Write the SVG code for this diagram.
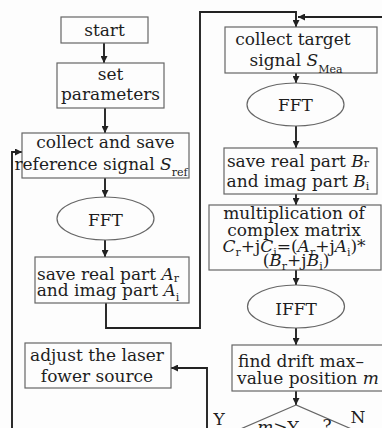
<svg xmlns="http://www.w3.org/2000/svg" width="382" height="428" viewBox="0 0 382 428">
  <defs>
    <marker id="arrow" viewBox="0 0 10 10" refX="10" refY="5" markerWidth="7" markerHeight="7" markerUnits="userSpaceOnUse" orient="auto">
      <path d="M0,0 L10,5 L0,10 Z" fill="#222"/>
    </marker>
    <style>
      .box { fill: none; stroke: #666; stroke-width: 1.2; }
      .arr { fill: none; stroke: #222; stroke-width: 1.9; marker-end: url(#arrow); }
      text { font-family: "DejaVu Serif", "Liberation Serif", serif; font-size: 17px; fill: #1e1e1e; text-anchor: middle; }
      .it { font-style: italic; }
      .sub { font-size: 11px; }
    </style>
  </defs>
  <rect width="382" height="428" fill="#fdfdfd"/>

  <!-- connectors -->
  <g id="connectors">
    <line class="arr" x1="104" y1="43" x2="104" y2="63"/>
    <line class="arr" x1="105" y1="108" x2="105" y2="133"/>
    <line class="arr" x1="105" y1="178" x2="105" y2="197"/>
    <line class="arr" x1="105" y1="240" x2="105" y2="257"/>
    <path class="arr" d="M106,303 V328 H200 V12 H296 V27"/>
    <path class="arr" d="M382,17 H298"/>
    <line class="arr" x1="296" y1="73" x2="296" y2="83"/>
    <line class="arr" x1="296" y1="126" x2="296" y2="148"/>
    <line class="arr" x1="296" y1="194" x2="296" y2="205"/>
    <line class="arr" x1="296" y1="270" x2="296" y2="285"/>
    <line class="arr" x1="296" y1="328" x2="296" y2="345"/>
    <line class="arr" x1="296" y1="391" x2="296" y2="405"/>
    <path class="arr" d="M207,428 V368 H171"/>
    <path class="arr" d="M12,428 V152 H22"/>
  </g>

  <g id="start">
    <rect class="box" x="61" y="17" width="87" height="26"/>
    <text x="104.5" y="36">start</text>
  </g>

  <g id="set-parameters">
    <rect class="box" x="57" y="63" width="107" height="45"/>
    <text x="110.5" y="80">set</text>
    <text x="110.5" y="100">parameters</text>
  </g>

  <g id="collect-reference">
    <rect class="box" x="22" y="133" width="167" height="45"/>
    <text x="105.5" y="148">collect and save</text>
    <text x="101" y="170">reference signal <tspan class="it">S</tspan><tspan class="sub" dy="6">ref</tspan></text>
  </g>

  <g id="fft-reference">
    <ellipse class="box" cx="105.5" cy="218.5" rx="48.5" ry="21.5"/>
    <text x="105.5" y="226">FFT</text>
  </g>

  <g id="save-a">
    <rect class="box" x="35" y="257" width="154" height="46"/>
    <text x="108" y="280">save real part <tspan class="it">A</tspan><tspan class="sub" dy="2">r</tspan></text>
    <text x="108" y="296">and imag part <tspan class="it">A</tspan><tspan class="sub" dy="5">i</tspan></text>
  </g>

  <g id="collect-target">
    <rect class="box" x="225" y="27" width="152" height="46"/>
    <text x="293" y="45">collect target</text>
    <text x="296" y="66">signal <tspan class="it">S</tspan><tspan class="sub" dy="7">Mea</tspan></text>
  </g>

  <g id="fft-target">
    <ellipse class="box" cx="295.5" cy="104.5" rx="48.5" ry="21.5"/>
    <text x="295.5" y="111">FFT</text>
  </g>

  <g id="save-b">
    <rect class="box" x="224" y="148" width="153" height="46"/>
    <text x="298" y="167">save real part <tspan class="it">B</tspan><tspan class="sub" dy="0">r</tspan></text>
    <text x="298" y="187">and imag part <tspan class="it">B</tspan><tspan class="sub" dy="3">i</tspan></text>
  </g>

  <g id="complex-multiply">
    <rect class="box" x="209" y="205" width="172" height="65"/>
    <text x="294" y="219">multiplication of</text>
    <text x="294" y="236">complex matrix</text>
    <text x="294" y="252"><tspan class="it">C</tspan><tspan class="sub" dy="4">r</tspan><tspan dy="-4">+j</tspan><tspan class="it">C</tspan><tspan class="sub" dy="4">i</tspan><tspan dy="-4">=(</tspan><tspan class="it">A</tspan><tspan class="sub" dy="4">r</tspan><tspan dy="-4">+j</tspan><tspan class="it">A</tspan><tspan class="sub" dy="4">i</tspan><tspan dy="-4">)*</tspan></text>
    <text x="296" y="266">(<tspan class="it">B</tspan><tspan class="sub" dy="4">r</tspan><tspan dy="-4">+j</tspan><tspan class="it">B</tspan><tspan class="sub" dy="4">i</tspan><tspan dy="-4">)</tspan></text>
  </g>

  <g id="ifft">
    <ellipse class="box" cx="296" cy="306.5" rx="48.5" ry="21.5"/>
    <text x="296" y="315">IFFT</text>
  </g>

  <g id="find-drift">
    <rect class="box" x="232" y="345" width="152" height="46"/>
    <text x="301" y="367">find drift max–</text>
    <text x="308" y="384">value position <tspan class="it">m</tspan></text>
  </g>

  <g id="adjust-laser">
    <rect class="box" x="25" y="343" width="146" height="45"/>
    <text x="97" y="361">adjust the laser</text>
    <text x="97" y="382">fower source</text>
  </g>

  <g id="decision">
    <polygon class="box" points="296,405 215,440 296,475 377,440"/>
    <text x="278" y="433"><tspan class="it">m</tspan>&gt;Y</text>
    <text x="327" y="431">?</text>
    <text x="219" y="425">Y</text>
    <text x="358" y="423">N</text>
  </g>
</svg>
